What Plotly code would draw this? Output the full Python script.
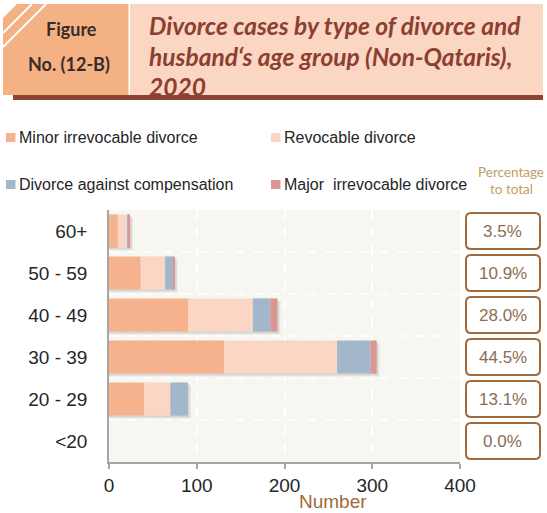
import plotly.graph_objects as go

# ---------------- data ----------------
age_groups = ["<20", "20 - 29", "30 - 39", "40 - 49", "50 - 59", "60+"]
minor_irrevocable = [0, 40, 131, 90, 36, 10]
revocable = [0, 30, 129, 74, 28, 11]
compensation = [0, 20, 38, 20, 9, 1]
major_irrevocable = [0, 0, 7, 8, 2, 2]
pct_labels = ["0.0%", "13.1%", "44.5%", "28.0%", "10.9%", "3.5%"]

series_names = ["Minor irrevocable divorce", "Revocable divorce",
                "Divorce against compensation", "Major  irrevocable divorce"]
series_colors = ["#F6B28C", "#FBD6C4", "#A2B7CB", "#D99694"]
x_ticks = [0, 100, 200, 300, 400]

title_lines = ["Divorce cases by type of divorce and",
               "husband\u2018s age group (Non-Qataris),",
               "2020"]

# ---------------- layout helpers (pixel -> paper) ----------------
W, H = 547, 513
PL, PR, PT, PB = 109, 460, 210, 462
BAR_W = 0.79


def xp(px):
    return (px - PL) / (PR - PL)


def yp(py):
    return (PB - py) / (PB - PT)


fig = go.Figure()
all_series = [minor_irrevocable, revocable, compensation, major_irrevocable]
totals = [sum(v) for v in zip(*all_series)]

# soft drop shadow behind each stacked bar
x_unit = 400 / (PR - PL)           # data units per pixel on x
y_unit = 1 / ((PB - PT) / len(age_groups))  # category units per pixel
for dpx, alpha in [(3.0, 0.05), (1.8, 0.08)]:
    fig.add_trace(go.Bar(
        y=age_groups, x=[t + dpx * x_unit if t else None for t in totals],
        base=0, orientation="h", width=BAR_W, offset=-BAR_W / 2 - dpx * y_unit,
        marker=dict(color=f"rgba(0,0,0,{alpha})", line=dict(width=0)),
        hoverinfo="skip", showlegend=False,
    ))

cum = [0] * len(age_groups)
for name, vals, col in zip(series_names, all_series, series_colors):
    fig.add_trace(go.Bar(
        y=age_groups, x=vals, base=list(cum), name=name, orientation="h",
        width=BAR_W, offset=-BAR_W / 2,
        marker=dict(color=col, line=dict(width=0)),
        hovertemplate="%{y}: %{x}<extra>" + name + "</extra>",
    ))
    cum = [c + v for c, v in zip(cum, vals)]

shapes = []
annotations = []

# header
shapes.append(dict(type="path", xref="paper", yref="paper",
                   path=f"M {xp(3)},{yp(18)} L {xp(17)},{yp(4)} L {xp(128.5)},{yp(4)} "
                        f"L {xp(128.5)},{yp(95)} L {xp(3)},{yp(95)} Z",
                   fillcolor="#F4B183", line=dict(width=0)))
shapes.append(dict(type="rect", xref="paper", yref="paper",
                   x0=xp(130), x1=xp(543), y0=yp(95), y1=yp(4),
                   fillcolor="#FBD6C3", line=dict(width=0)))
for (a, b) in [(33, 32), (47, 46)]:
    shapes.append(dict(type="line", xref="paper", yref="paper",
                       x0=xp(3), y0=yp(a), x1=xp(b), y1=yp(4),
                       line=dict(color="white", width=2)))
shapes.append(dict(type="rect", xref="paper", yref="paper",
                   x0=xp(13), x1=xp(543), y0=yp(100), y1=yp(95),
                   fillcolor="#8B4533", line=dict(width=0)))

annotations.append(dict(xref="paper", yref="paper", x=xp(71), y=yp(29),
                        text="Figure", showarrow=False, xanchor="center", yanchor="middle",
                        font=dict(family="Lato", size=18, color="#3A2B27", weight="bold")))
annotations.append(dict(xref="paper", yref="paper", x=xp(69), y=yp(64),
                        text="No. (12-B)", showarrow=False, xanchor="center", yanchor="middle",
                        font=dict(family="Lato", size=18, color="#3A2B27", weight="bold")))
for k, line in enumerate(title_lines):
    annotations.append(dict(xref="paper", yref="paper", x=xp(147), y=yp(26 + 30.5 * k),
                            text=line, showarrow=False, xanchor="left", yanchor="middle",
                            font=dict(family="Lato", size=24.5, color="#8B4030",
                                      weight="bold", style="italic")))

# manual legend (2 x 2)
leg_pos = [(6, 137.5), (271, 137.5), (6, 184.5), (271, 184.5)]
for (lx, ly), name, col in zip(leg_pos, series_names, series_colors):
    shapes.append(dict(type="rect", xref="paper", yref="paper",
                       x0=xp(lx), x1=xp(lx + 9.5), y0=yp(ly + 4.5), y1=yp(ly - 4.5),
                       fillcolor=col, line=dict(width=0)))
    annotations.append(dict(xref="paper", yref="paper", x=xp(lx + 11), y=yp(ly),
                            text=name, showarrow=False, xanchor="left", yanchor="middle",
                            font=dict(family="Arial", size=16, color="#262626")))

# "Percentage to total"
annotations.append(dict(xref="paper", yref="paper", x=xp(511), y=yp(171.5),
                        text="Percentage", showarrow=False, xanchor="center", yanchor="middle",
                        font=dict(family="Lato", size=13.5, color="#BFA062")))
annotations.append(dict(xref="paper", yref="paper", x=xp(511), y=yp(189),
                        text="to total", showarrow=False, xanchor="center", yanchor="middle",
                        font=dict(family="Lato", size=13.5, color="#BFA062")))

# category boundary dashed lines
for i in range(len(age_groups) - 1):
    shapes.append(dict(type="line", xref="paper", yref="y", x0=0, x1=1,
                       y0=i + 0.5, y1=i + 0.5, layer="below",
                       line=dict(color="white", width=1.5, dash="dash")))

# percentage boxes
n = len(age_groups)
bx0, bx1 = xp(466), xp(540)
hh = 18 / (PB - PT)
rx, ry = 5 / (PR - PL), 5 / (PB - PT)
for i, lab in enumerate(pct_labels):
    yc = (i + 0.5) / n
    y0, y1 = yc - hh, yc + hh
    path = (f"M {bx0 + rx},{y0} L {bx1 - rx},{y0} Q {bx1},{y0} {bx1},{y0 + ry} "
            f"L {bx1},{y1 - ry} Q {bx1},{y1} {bx1 - rx},{y1} "
            f"L {bx0 + rx},{y1} Q {bx0},{y1} {bx0},{y1 - ry} "
            f"L {bx0},{y0 + ry} Q {bx0},{y0} {bx0 + rx},{y0} Z")
    shapes.append(dict(type="path", xref="paper", yref="paper", path=path,
                       line=dict(color="#A06A3C", width=2), fillcolor="white"))
    annotations.append(dict(xref="paper", yref="y", x=(bx0 + bx1) / 2, y=age_groups[i],
                            text=lab, showarrow=False, xanchor="center", yanchor="middle",
                            font=dict(family="Arial", size=17, color="#8C6D52")))

# x-axis title
annotations.append(dict(xref="paper", yref="paper", x=xp(333), y=yp(512.5),
                        text="Number", showarrow=False, xanchor="center", yanchor="bottom",
                        borderpad=0,
                        font=dict(family="Arial", size=19, color="#9C6A36")))

fig.update_layout(
    width=W, height=H,
    margin=dict(l=PL, r=W - PR, t=PT, b=H - PB, pad=0),
    paper_bgcolor="white", plot_bgcolor="#F7F6F1",
    barmode="overlay",
    showlegend=False,
    xaxis=dict(range=[0, 400], tickvals=x_ticks, ticks="outside", ticklen=5,
               tickcolor="#A6A6A6", tickwidth=1.5, showline=True, linecolor="#A6A6A6",
               linewidth=1.5, showgrid=True, gridcolor="white", gridwidth=1.5,
               griddash="dash", zeroline=False, ticklabelstandoff=0, automargin=False,
               tickfont=dict(family="Arial", size=19, color="#262626")),
    yaxis=dict(categoryorder="array", categoryarray=age_groups, showline=True,
               linecolor="#A6A6A6", linewidth=1.5, showgrid=False, zeroline=False,
               ticks="", ticklabelstandoff=16, automargin=False,
               range=[-0.5, len(age_groups) - 0.5],
               tickfont=dict(family="Arial", size=19, color="#262626")),
    shapes=shapes, annotations=annotations,
)

fig.write_html("out.html", config={"displayModeBar": False},
               post_script="document.body.style.margin='0px';document.body.style.padding='0px';")
